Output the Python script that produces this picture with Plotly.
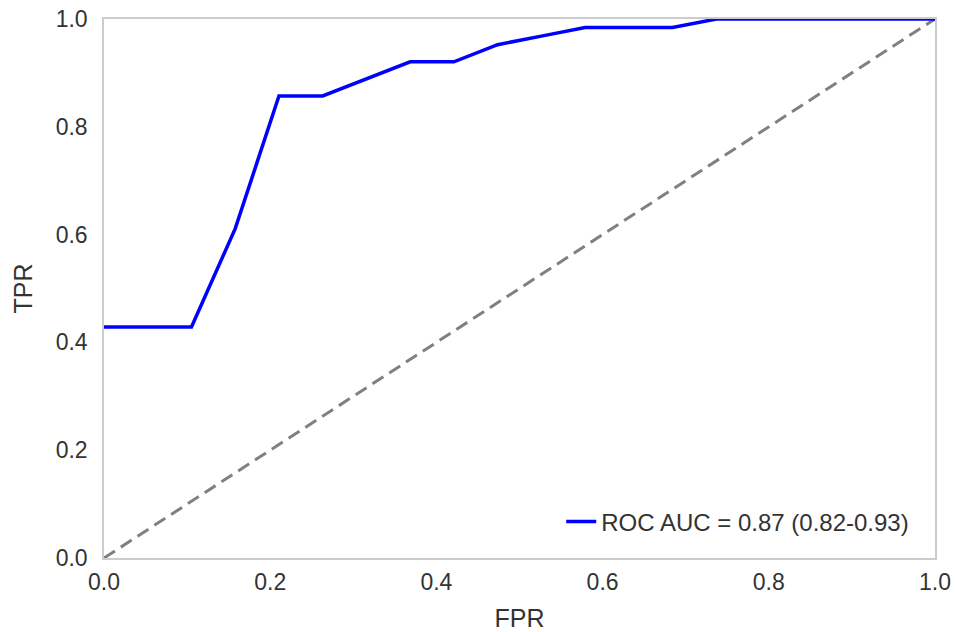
import plotly.graph_objects as go

# ROC curve points
fpr = [0.0, 2/19, 3/19, 4/19, 5/19, 6/19, 7/19, 8/19, 9/19, 10/19, 11/19, 13/19, 14/19, 1.0]
tpr = [27/63, 27/63, 0.611, 54/63, 54/63, 56/63, 58/63, 58/63, 60/63, 61/63, 62/63, 62/63, 1.0, 1.0]
chance_x = [0.0, 1.0]
chance_y = [0.0, 1.0]
legend_label = "ROC AUC = 0.87 (0.82-0.93)"
tick_vals = [0.0, 0.2, 0.4, 0.6, 0.8, 1.0]
tick_text = ["0.0", "0.2", "0.4", "0.6", "0.8", "1.0"]

fig = go.Figure()
fig.add_trace(go.Scatter(x=chance_x, y=chance_y, mode="lines",
                         line=dict(color="#808080", width=3, dash="13px,7px"),
                         showlegend=False, hoverinfo="skip"))
fig.add_trace(go.Scatter(x=fpr, y=tpr, mode="lines", name=legend_label,
                         line=dict(color="#0000ff", width=3.5)))

axis_common = dict(range=[0, 1], tickvals=tick_vals, ticktext=tick_text,
                   showgrid=False, zeroline=False, showline=True, mirror=True,
                   linecolor="#cccccc", linewidth=1.5, automargin=False,
                   tickfont=dict(size=23, color="#333333"),
                   ticks="outside", ticklen=0)

fig.update_layout(
    width=955, height=632,
    margin=dict(l=104, r=20, t=19, b=74),
    paper_bgcolor="white", plot_bgcolor="white",
    font=dict(family="Liberation Sans, Arial, sans-serif", color="#333333"),
    xaxis=dict(**axis_common, ticklabelstandoff=3,
               title=dict(text="FPR", font=dict(size=25, color="#333333"), standoff=16)),
    yaxis=dict(**axis_common, ticklabelstandoff=10,
               title=dict(text="TPR", font=dict(size=25, color="#333333"), standoff=16)),
    legend=dict(x=0.975, y=0.067, xanchor="right", yanchor="middle",
                bgcolor="rgba(255,255,255,0)", borderwidth=0,
                font=dict(size=24, color="#333333")),
)

fig.write_html("out.html")
